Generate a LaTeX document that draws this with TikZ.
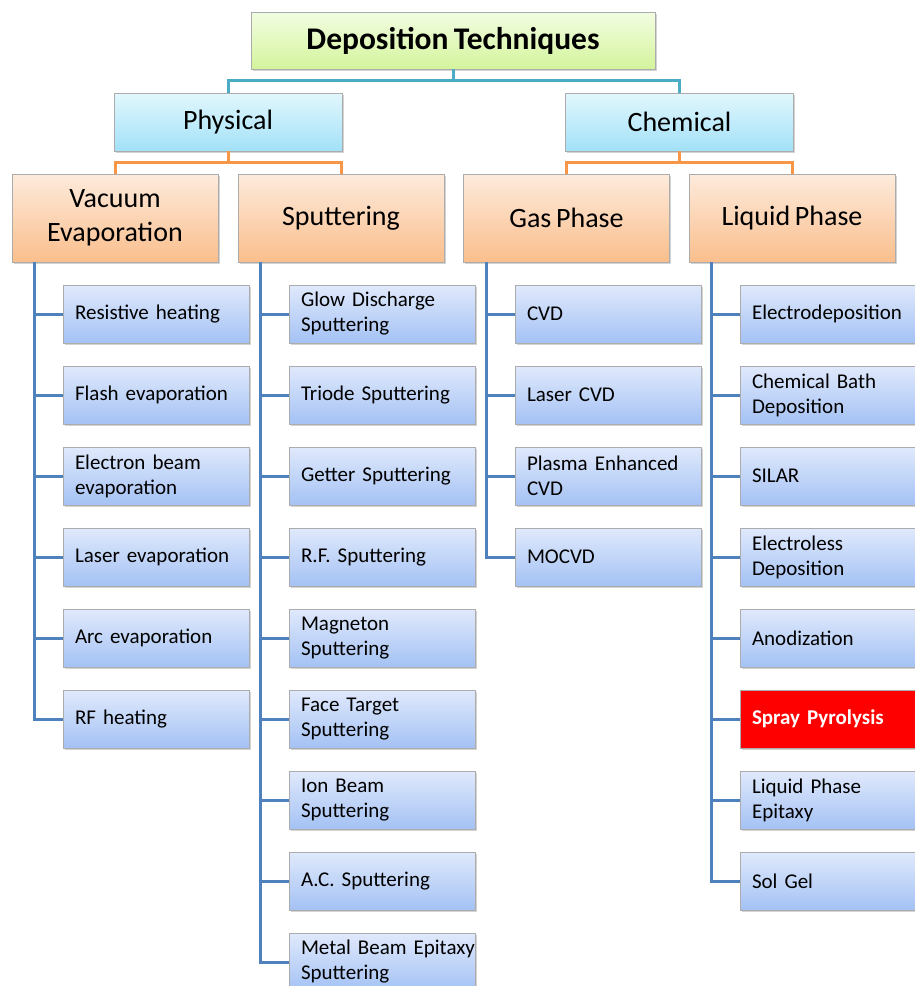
\documentclass[tikz,border=0pt]{standalone}
\usepackage{fontspec}
\setmainfont{Carlito}[WordSpace=0.75]
\usepackage{tikz}
\usetikzlibrary{positioning, calc, shadows}
\definecolor{rootgreenA}{RGB}{242,253,226}
\definecolor{rootgreenB}{RGB}{212,244,156}
\definecolor{catblueA}{RGB}{226,247,253}
\definecolor{catblueB}{RGB}{162,225,248}
\definecolor{peachA}{RGB}{253,235,220}
\definecolor{peachB}{RGB}{250,190,140}
\definecolor{leafblueA}{RGB}{224,233,252}
\definecolor{leafblueB}{RGB}{164,194,244}
\definecolor{linkteal}{RGB}{75,172,198}
\definecolor{linkorange}{RGB}{247,150,70}
\definecolor{linkblue}{RGB}{79,129,189}
\definecolor{sprayred}{RGB}{255,0,0}
\hyphenpenalty=10000

\tikzset{
  boxbase/.style={draw=gray!65, line width=0.8pt, inner sep=0pt,
    drop shadow={opacity=0.35, shadow xshift=1.5pt, shadow yshift=-1.5pt}},
  rootbox/.style={boxbase, top color=rootgreenA, bottom color=rootgreenB,
    minimum width=404pt, minimum height=57pt,
    font=\fontsize{31.5}{36}\selectfont\bfseries},
  catbox/.style={boxbase, top color=catblueA, bottom color=catblueB,
    minimum width=228pt, minimum height=58pt,
    font=\fontsize{28}{33}\selectfont},
  groupbox/.style={boxbase, top color=peachA, bottom color=peachB,
    minimum width=206pt, minimum height=88pt, align=center,
    font=\fontsize{28}{34}\selectfont},
  leafbox/.style={boxbase, top color=leafblueA, bottom color=leafblueB,
    minimum height=58pt, text width=162pt, inner xsep=12pt, align=left,
    font=\fontsize{21}{25}\selectfont},
  spraybox/.style={leafbox, fill=sprayred, top color=sprayred, bottom color=sprayred,
    text=white, font=\fontsize{21}{25}\selectfont\bfseries},
  tealline/.style={draw=linkteal, line width=3pt},
  orangeline/.style={draw=linkorange, line width=3pt},
  busline/.style={draw=linkblue, line width=3pt}
}

\begin{document}
\begin{tikzpicture}[x=1pt,y=1pt]
\useasboundingbox (0,0) rectangle (915,-986);
\clip (0,0) rectangle (915,-986);

% Top levels
\node[rootbox] (root) at (453,-40.5) {Deposition Techniques};
\node[catbox] (phys) at (228,-122) {Physical};
\node[catbox] (chem) at (679.5,-122) {Chemical};

\node[groupbox] (vac) at (115,-218) {Vacuum\\Evaporation};
\node[groupbox] (sput) at (341,-218) {Sputtering};
\node[groupbox] (gas) at (566.5,-218) {Gas Phase};
\node[groupbox] (liq) at (792,-218) {Liquid Phase};

% Vacuum evaporation
\node[leafbox] (v1) at (156,-314) {Resistive heating};
\node[leafbox] (v2) at (156,-395) {Flash evaporation};
\node[leafbox] (v3) at (156,-476) {Electron beam\\evaporation};
\node[leafbox] (v4) at (156,-557) {Laser evaporation};
\node[leafbox] (v5) at (156,-638) {Arc evaporation};
\node[leafbox] (v6) at (156,-719) {RF heating};

% Sputtering
\node[leafbox] (s1) at (382,-314) {Glow Discharge\\Sputtering};
\node[leafbox] (s2) at (382,-395) {Triode Sputtering};
\node[leafbox] (s3) at (382,-476) {Getter Sputtering};
\node[leafbox] (s4) at (382,-557) {R.F. Sputtering};
\node[leafbox] (s5) at (382,-638) {Magneton\\Sputtering};
\node[leafbox] (s6) at (382,-719) {Face Target\\Sputtering};
\node[leafbox] (s7) at (382,-800) {Ion Beam\\Sputtering};
\node[leafbox] (s8) at (382,-881) {A.C. Sputtering};
\node[leafbox] (s9) at (382,-962) {\mbox{Metal Beam Epitaxy}\\Sputtering};

% Gas phase
\node[leafbox] (g1) at (608,-314) {CVD};
\node[leafbox] (g2) at (608,-395) {Laser CVD};
\node[leafbox] (g3) at (608,-476) {Plasma Enhanced\\CVD};
\node[leafbox] (g4) at (608,-557) {MOCVD};

% Liquid phase
\node[leafbox] (l1) at (833,-314) {Electrodeposition};
\node[leafbox] (l2) at (833,-395) {Chemical Bath\\Deposition};
\node[leafbox] (l3) at (833,-476) {SILAR};
\node[leafbox] (l4) at (833,-557) {Electroless\\Deposition};
\node[leafbox] (l5) at (833,-638) {Anodization};
\node[spraybox] (l6) at (833,-719) {Spray Pyrolysis};
\node[leafbox] (l7) at (833,-800) {Liquid Phase\\Epitaxy};
\node[leafbox] (l8) at (833,-881) {Sol Gel};

% Connectors
\draw[tealline] (root.south) -- ++(0,-11) -| (phys.north);
\draw[tealline] (root.south) -- ++(0,-11) -| (chem.north);
\draw[orangeline] (phys.south) -- ++(0,-11) -| (vac.north);
\draw[orangeline] (phys.south) -- ++(0,-11) -| (sput.north);
\draw[orangeline] (chem.south) -- ++(0,-11) -| (gas.north);
\draw[orangeline] (chem.south) -- ++(0,-11) -| (liq.north);

\foreach \leaf in {v1,v2,v3,v4,v5,v6}
  \draw[busline] ([xshift=23pt]vac.south west) |- (\leaf.west);
\foreach \leaf in {s1,s2,s3,s4,s5,s6,s7,s8,s9}
  \draw[busline] ([xshift=23pt]sput.south west) |- (\leaf.west);
\foreach \leaf in {g1,g2,g3,g4}
  \draw[busline] ([xshift=23pt]gas.south west) |- (\leaf.west);
\foreach \leaf in {l1,l2,l3,l4,l5,l6,l7,l8}
  \draw[busline] ([xshift=23pt]liq.south west) |- (\leaf.west);
\end{tikzpicture}
\end{document}
